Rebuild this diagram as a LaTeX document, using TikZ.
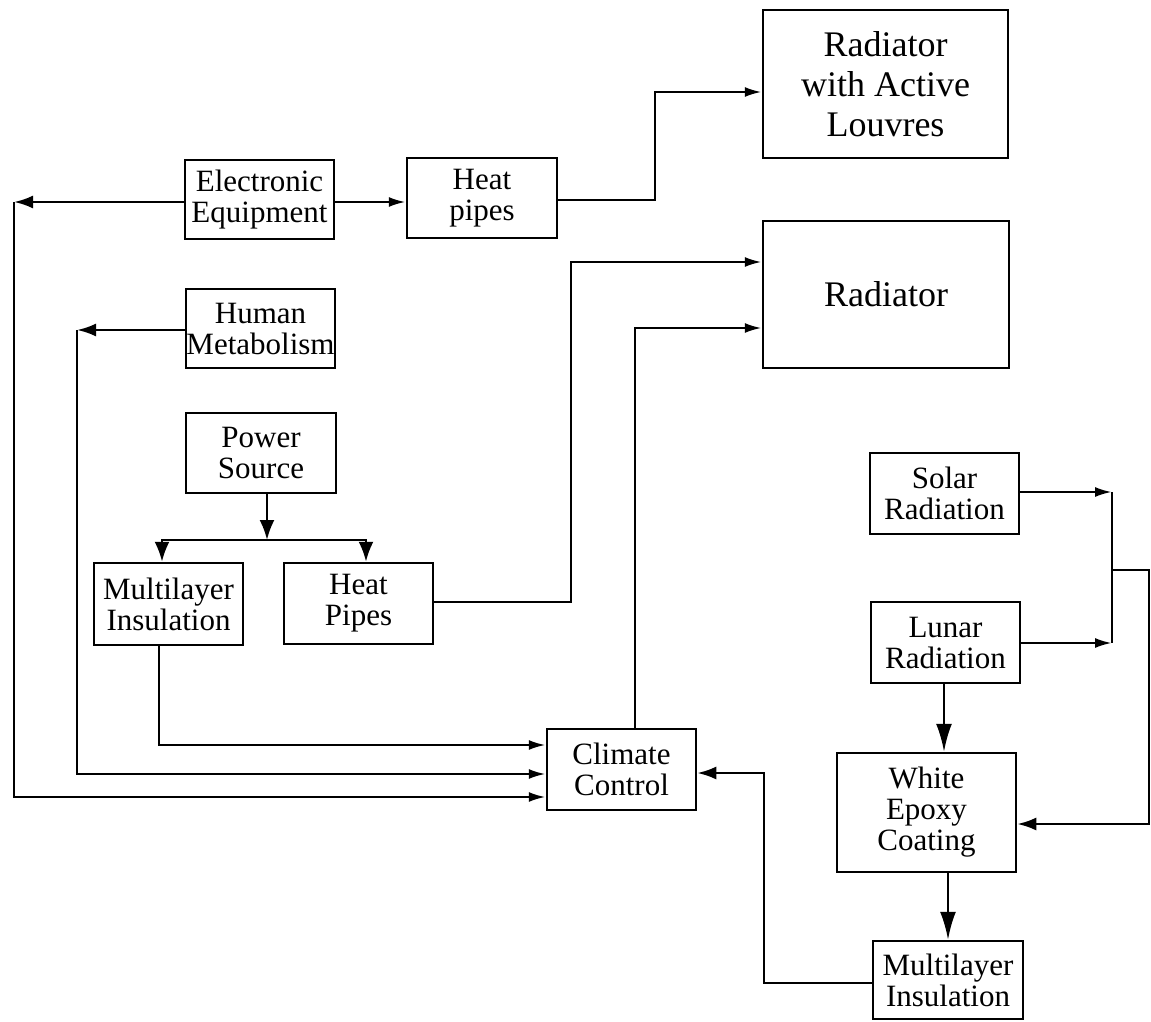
\documentclass[tikz,border=0pt]{standalone}
\usepackage{fontspec}
\setmainfont{Liberation Serif}
\usetikzlibrary{arrows.meta}
\begin{document}
\begin{tikzpicture}[x=1pt,y=-1pt,
  box/.style={draw,line width=2.5pt,align=center,inner sep=0pt,font=\fontsize{31}{31}\selectfont},
  bigbox/.style={box,font=\fontsize{36}{40}\selectfont},
  conn/.style={line width=2.5pt},
  arr/.style={conn,-{Latex[length=17pt,width=10pt]}},
  larr/.style={conn,-{Latex[length=19pt,width=13pt]}},
  medarr/.style={conn,-{Latex[length=20pt,width=15pt]}},
  bigarr/.style={conn,-{Latex[length=28pt,width=16pt]}}]
\useasboundingbox (0,0) rectangle (1151,1022);
% boxes
\node[box,minimum width=149pt,minimum height=79pt] (elec) at (259.5,199.5) {Electronic\\Equipment};
\node[box,minimum width=150pt,minimum height=80pt] (hpa) at (482,198) {Heat\\pipes};
\node[bigbox,minimum width=245pt,minimum height=148pt] (rada) at (885.5,84) {Radiator\\with Active\\Louvres};
\node[bigbox,minimum width=246pt,minimum height=147pt] (rad) at (886,294.5) {Radiator};
\node[box,minimum width=149pt,minimum height=79pt] (human) at (260.5,328.5) {Human\\Metabolism};
\node[box,minimum width=150pt,minimum height=80pt] (power) at (261,453) {Power\\Source};
\node[box,minimum width=149pt,minimum height=82pt] (mlia) at (168.5,604) {Multilayer\\Insulation};
\node[box,minimum width=149pt,minimum height=81pt] (hpb) at (358.5,603.5) {Heat\\Pipes};
\node[box,minimum width=149pt,minimum height=81pt] (climate) at (621.5,769.5) {Climate\\Control};
\node[box,minimum width=149pt,minimum height=81pt] (solar) at (944.5,493.5) {Solar\\Radiation};
\node[box,minimum width=149pt,minimum height=81pt] (lunar) at (945.5,642.5) {Lunar\\Radiation};
\node[box,minimum width=179pt,minimum height=119pt] (white) at (926.5,812.5) {White\\Epoxy\\Coating};
\node[box,minimum width=150pt,minimum height=78pt] (mlib) at (948,980) {Multilayer\\Insulation};
% bend points
\coordinate (eL) at (14,202);
\coordinate (hL) at (77,330);
\coordinate (pj) at (267,540);
\coordinate (hpaB) at (655,200);
\coordinate (hpbB) at (571,602);
\coordinate (sv) at (1112,492);
\coordinate (lv) at (1112,643);
\coordinate (br) at (1112,570);
\coordinate (brR) at (1149,570);
\coordinate (mlibB) at (764,983);
% connectors
\draw[larr] (elec.west |- eL) -- (eL);
\draw[arr] (eL) |- (climate.west |- 0,797);
\draw[larr] (human.west |- hL) -- (hL);
\draw[arr] (hL) |- (climate.west |- 0,774);
\draw[arr] (mlia.south -| 159,0) |- (climate.west |- 0,745);
\draw[medarr] (power.south -| pj) -- (pj);
\draw[medarr] (pj) -| (mlia.north -| 162,0);
\draw[medarr] (pj) -| (hpb.north -| 366,0);
\draw[arr] (elec.east |- 0,202) -- (hpa.west |- 0,202);
\draw[arr] (hpa.east |- hpaB) -- (hpaB) |- (rada.west |- 0,92);
\draw[arr] (hpb.east |- hpbB) -- (hpbB) |- (rad.west |- 0,262);
\draw[arr] (climate.north -| 635,0) |- (rad.west |- 0,328);
\draw[arr] (solar.east |- sv) -- (sv);
\draw[arr] (lunar.east |- lv) -- (lv);
\draw[conn] (sv) -- (lv);
\draw[larr] (br) -- (brR) |- (white.east |- 0,824);
\draw[bigarr] (lunar.south -| 944,0) -- (white.north -| 944,0);
\draw[bigarr] (white.south -| 948,0) -- (mlib.north -| 948,0);
\draw[larr] (mlib.west |- mlibB) -- (mlibB) |- (climate.east |- 0,773);
\end{tikzpicture}
\end{document}
